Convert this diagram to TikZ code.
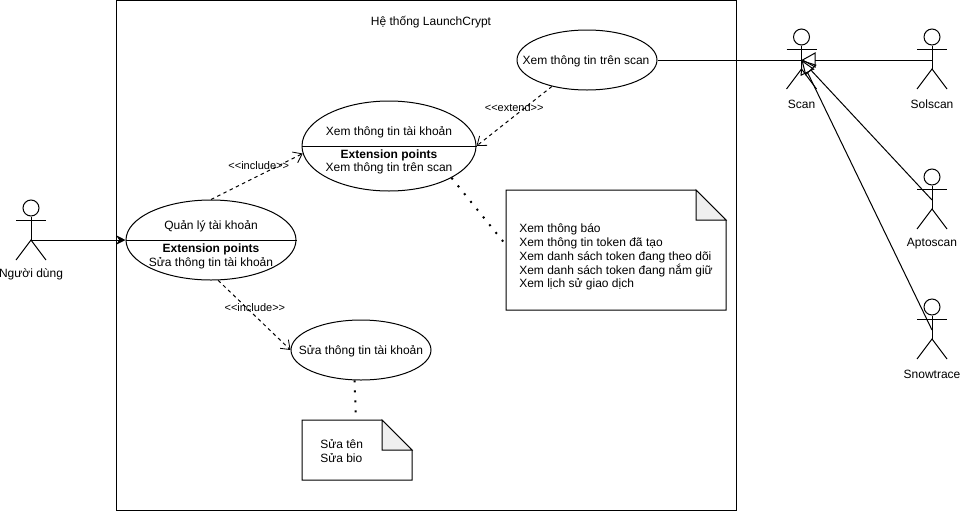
\documentclass[tikz,border=0pt]{standalone}
\usepackage{fontspec}
\setmainfont{Liberation Sans}
\usetikzlibrary{arrows.meta,shapes.geometric,calc}
\newcommand{\umlactor}[5]{% name, x, head y, label, label y
  \coordinate (#1) at (#2,#3+23);
  \coordinate (#1hip) at (#2,#3+32);
  \node[actorhead] (#1head) at (#2,#3) {};
  \draw[ln] (#1head.south) -- (#1hip);
  \draw[ln] (#2-15,#3+12) -- (#2+15,#3+12);
  \draw[ln] (#2-15,#3+52) -- (#1hip) -- (#2+15,#3+52);
  \node[txt] (#1label) at (#2,#5) {#4};
}
\newcommand{\umlnote}[5]{% name, cx, cy, w, h
  \node[notebox,minimum width=#4*0.75pt,minimum height=#5*0.75pt] (#1) at (#2,#3) {};
  \draw[ln,fill=white] (#1.north west) -- ($(#1.north east)+(-30,0)$) -- ($(#1.north east)+(0,30)$) -- (#1.south east) -- (#1.south west) -- cycle;
  \draw[ln,fill=foldgray] ($(#1.north east)+(-30,0)$) -- ($(#1.north east)+(-30,30)$) -- ($(#1.north east)+(0,30)$) -- cycle;
}
\definecolor{foldgray}{HTML}{EFEFEF}
\tikzset{
  x=0.75pt,y=-0.75pt,
  ln/.style={draw=black,line width=0.75pt},
  txt/.style={font=\fontsize{9}{10.35}\selectfont,inner sep=0pt,text=black,yshift=-0.75pt},
  small/.style={font=\fontsize{8.25}{10}\selectfont,inner sep=0pt,text=black},
  actorhead/.style={circle,ln,minimum size=12pt,inner sep=0pt},
  usecase/.style={ellipse,ln,inner sep=0pt,fill=white},
  notebox/.style={rectangle,inner sep=0pt,line width=0pt},
  notetxt/.style={txt,align=left,anchor=north west},
  dep/.style={ln,dash pattern=on 2.6pt off 2.6pt,-{Straight Barb[length=6pt,width=9pt,line width=0.6pt]}},
  dotline/.style={draw=black,line width=1.5pt,dash pattern=on 1.5pt off 6pt},
  gen/.style={ln,-{Triangle[open,length=10.5pt,width=11.5pt,line width=0.75pt]}},
}
\begin{document}
\begin{tikzpicture}
\useasboundingbox (0,0) rectangle (960,511);
\node[rectangle,ln,minimum width=465pt,minimum height=382.5pt,inner sep=0pt] (system) at (426,255) {};
\node[txt] (title) at (431,21) {Hệ thống LaunchCrypt};

% use cases
\node[usecase,minimum width=127.5pt,minimum height=60pt] (manage) at (211,240) {};
\draw[ln] (manage.west) -- (manage.east);
\node[txt] (manageT) at (211,225) {Quản lý tài khoản};
\node[txt] (manageE) at (211,248.5) {\textbf{Extension points}};
\node[txt] (manageP) at (211,262) {Sửa thông tin tài khoản};

\node[usecase,minimum width=130.5pt,minimum height=67.5pt] (view) at (389,146) {};
\draw[ln] (view.west) -- (view.east);
\node[txt] (viewT) at (389,131) {Xem thông tin tài khoản};
\node[txt] (viewE) at (389,154) {\textbf{Extension points}};
\node[txt] (viewP) at (389,167.5) {Xem thông tin trên scan};

\node[usecase,minimum width=105pt,minimum height=45pt] (scanuc) at (587,60) {};
\node[txt] (scanT) at (586,60) {Xem thông tin trên scan};

\node[usecase,minimum width=105pt,minimum height=45pt] (edit) at (361,350) {};
\node[txt] (editT) at (361,350) {Sửa thông tin tài khoản};

% notes
\umlnote{note1}{616}{250}{220}{120}
\node[notetxt] (note1T) at (519,222.5) {Xem thông báo\\Xem thông tin token đã tạo\\Xem danh sách token đang theo dõi\\Xem danh sách token đang nắm giữ\\Xem lịch sử giao dịch};
\umlnote{note2}{357}{450}{110}{60}
\node[notetxt] (note2T) at (320,438.5) {Sửa tên\\Sửa bio};

% actors
\umlactor{user}{31}{208}{Người dùng}{273}
\umlactor{scan}{801.5}{37}{Scan}{103}
\umlactor{solscan}{932}{37}{Solscan}{103}
\umlactor{aptos}{932}{177}{Aptoscan}{243}
\umlactor{snow}{932}{307}{Snowtrace}{373}

% connectors
\draw[ln,-{Stealth[length=7pt,width=7pt]}] (userhip) -- (manage.west);
\draw[ln] (scanuc.east) -- (scan);
\draw[gen] (solscan) -- (scan);
\draw[gen] (aptos) -- (scan);
\draw[gen] (snow) -- (scan);

\draw[dep] (manage.north) -- (view.185) node[small,pos=0.52,yshift=7.5pt] (incA) {{<}{<}include{>}{>}};
\draw[dep] (manage.-80) -- (edit.west) node[small,pos=0.48,xshift=1.5pt,yshift=4.5pt] (incB) {{<}{<}include{>}{>}};
\draw[dep] (scanuc.-143) -- (view.east) node[small,pos=0.5,yshift=6.75pt] (ext) {{<}{<}extend{>}{>}};

\coordinate (n1dot) at ($(note1.west)+(0,-5)$);
\coordinate (n2dot) at ($(note2.north)+(-1,0)$);
\draw[dotline] (view.-27) -- (n1dot);
\draw[dotline] (edit.-102) -- (n2dot);
\end{tikzpicture}
\end{document}
